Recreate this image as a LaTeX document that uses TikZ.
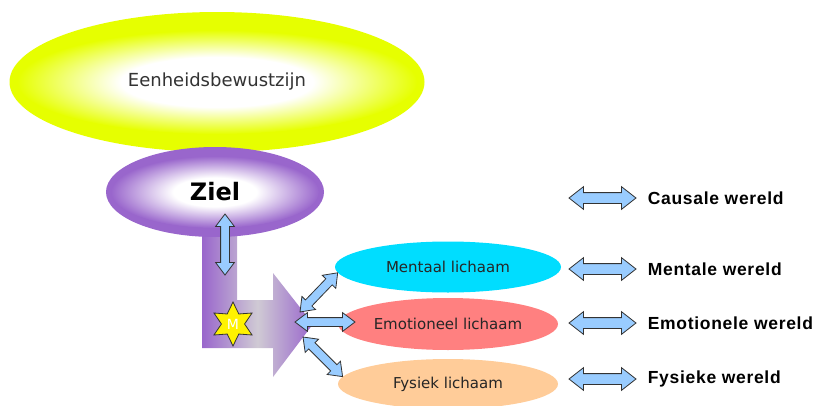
\documentclass[tikz,border=0pt]{standalone}
\usepackage{fontspec}
\setmainfont{DejaVu Sans}
\newfontfamily\worldfont[LetterSpace=4]{Liberation Sans}
\usetikzlibrary{arrows.meta, positioning, shapes.geometric, shapes.arrows, calc, backgrounds}

\definecolor{unityyellow}{HTML}{E6FF00}
\definecolor{soulpurple}{HTML}{9966CC}
\definecolor{soulgrey}{HTML}{CFCAD4}
\definecolor{mentalcyan}{HTML}{00DDFF}
\definecolor{emosalmon}{HTML}{FF8080}
\definecolor{bodypeach}{HTML}{FFCC99}
\definecolor{linkblue}{HTML}{99CCFF}

\pgfdeclareradialshading{unityglow}{\pgfpoint{0bp}{0bp}}{color(0bp)=(white); color(12bp)=(white); color(25bp)=(unityyellow); color(50bp)=(unityyellow)}
\pgfdeclareradialshading{soulglow}{\pgfpoint{0bp}{0bp}}{color(0bp)=(white); color(10bp)=(white); color(25bp)=(soulpurple); color(50bp)=(soulpurple)}
\pgfdeclarehorizontalshading{soulbar}{100bp}{color(0bp)=(soulpurple); color(25bp)=(soulpurple); color(50bp)=(soulgrey); color(75bp)=(soulpurple); color(100bp)=(soulpurple)}

% double block arrow between two points
\newcommand{\linkarrow}[2]{%
  \path let \p1=(#1), \p2=(#2),
    \n1={atan2(\y2-\y1,\x2-\x1)}, \n2={veclen(\x2-\x1,\y2-\y1)} in
    node[linkarr, rotate=\n1, minimum height=\n2] at ($(#1)!0.5!(#2)$) {};}

\begin{document}
\begin{tikzpicture}[
    x=1pt, y=-1pt,
    plane/.style={ellipse, inner sep=0pt, font=\fontsize{15pt}{18pt}\selectfont, text=black!85},
    linkarr/.style={double arrow, draw=black!80, line width=0.8pt, fill=linkblue, inner xsep=0pt, inner ysep=4pt, double arrow head extend=5pt, double arrow tip angle=74},
    worldarr/.style={linkarr, inner ysep=5pt, double arrow head extend=6pt, double arrow tip angle=76, minimum height=67pt},
    world/.style={inner sep=0pt, font={\worldfont\bfseries\fontsize{17.5pt}{21pt}\selectfont}}
]
    \useasboundingbox (0,0) rectangle (823,405);

    % === Eenheid en ziel ===
    \node[ellipse, minimum width=415pt, minimum height=140pt, inner sep=0pt,
          font=\fontsize{18pt}{21pt}\selectfont, text=black!80] (unity) at (217,82) {Eenheidsbewustzijn};
    \node[ellipse, minimum width=218pt, minimum height=90pt, inner sep=0pt,
          font=\bfseries\fontsize{24pt}{28pt}\selectfont] (ziel) at (215,192) {Ziel};

    \begin{scope}[on background layer]
        \fill[unityyellow] (unity.center) ellipse [x radius=207.5pt, y radius=70pt];
        \shade[shading=unityglow] (unity.center) ellipse [x radius=200pt, y radius=52pt];
        % L-vormige pijl onder de ziel
        \shade[shading=soulbar] (202,225) -- (237,225) -- (237,300) -- (273,300) -- (273,273) -- (313,324)
            -- (273,377) -- (273,348) -- (202,348) -- cycle;
        \fill[soulpurple] (ziel.center) ellipse [x radius=109pt, y radius=45pt];
        \shade[shading=soulglow] (ziel.center) ellipse [x radius=104pt, y radius=36pt];
    \end{scope}

    \node[star, star points=6, star point ratio=1.9, minimum size=44pt, inner sep=0pt, fill=yellow, draw=black!80, line width=0.8pt,
          label={[text=white, font=\fontsize{14pt}{16pt}\selectfont]center:M}] (monad) at (233,324) {};

    % === Lichamen ===
    \node[plane, minimum width=226pt, minimum height=51pt, fill=mentalcyan] (mental) at (448,267) {Mentaal lichaam};
    \node[plane, minimum width=220pt, minimum height=52pt, fill=emosalmon] (emotion) at (448,324) {Emotioneel lichaam};
    \node[plane, minimum width=220pt, minimum height=50pt, fill=bodypeach] (physical) at (448,384) {Fysiek lichaam};

    % === Verbindingen ===
    \coordinate (zielin) at (225,214);
    \coordinate (barin) at (225,275);
    \coordinate (hubup) at (300,312);
    \coordinate (hubmid) at (295,322);
    \coordinate (hubdown) at (303,337);
    \coordinate (emoin) at (355,322);
    \linkarrow{zielin}{barin}
    \linkarrow{hubup}{mental.183}
    \linkarrow{hubmid}{emoin}
    \linkarrow{hubdown}{physical.176}

    % === Werelden ===
    \node[worldarr] (causalarr) at (602.5,198) {};
    \node[worldarr] (mentalarr) at (602.5,269) {};
    \node[worldarr] (emotionarr) at (602.5,323) {};
    \node[worldarr] (physicalarr) at (602.5,379) {};
    \node[world, right=11pt of causalarr] (causal) {Causale wereld};
    \node[world, right=11pt of mentalarr] (mentalw) {Mentale wereld};
    \node[world, right=11pt of emotionarr] (emotionw) {Emotionele wereld};
    \node[world, right=11pt of physicalarr] (physicalw) {Fysieke wereld};
\end{tikzpicture}
\end{document}
